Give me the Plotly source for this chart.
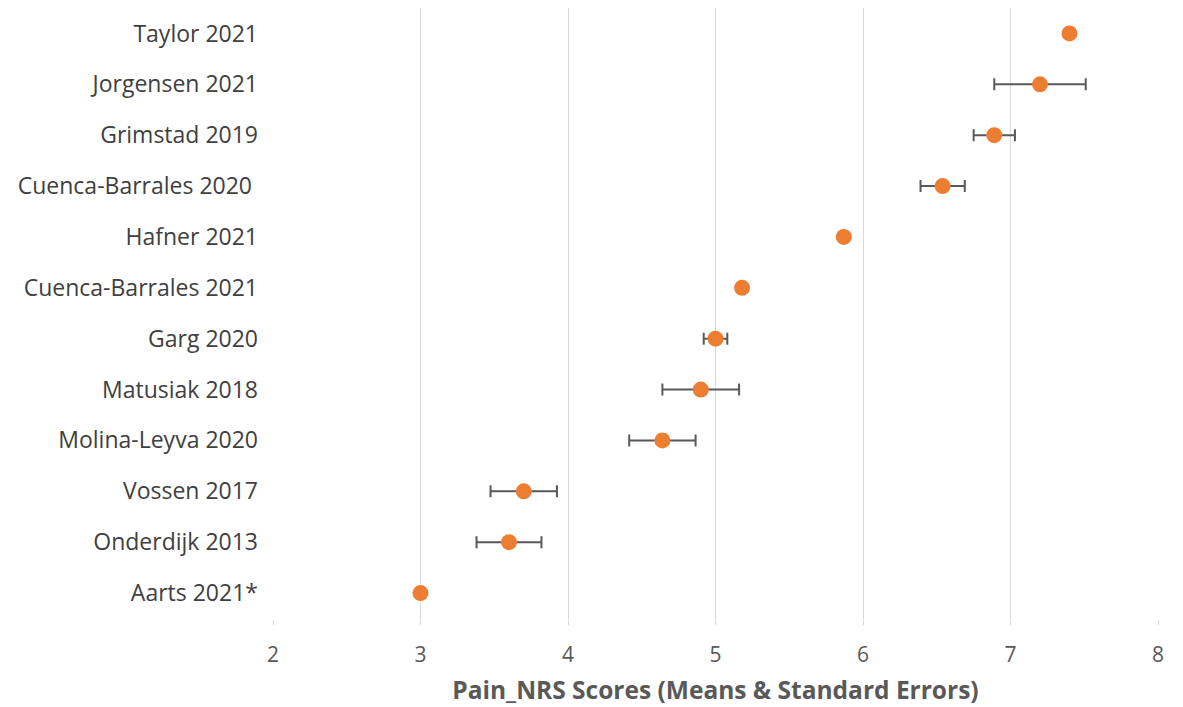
import plotly.graph_objects as go

studies = ["Taylor 2021", "Jorgensen 2021", "Grimstad 2019", "Cuenca-Barrales 2020 ",
           "Hafner 2021", "Cuenca-Barrales 2021", "Garg 2020", "Matusiak 2018",
           "Molina-Leyva 2020", "Vossen 2017", "Onderdijk 2013", "Aarts 2021*"]
means = [7.40, 7.20, 6.89, 6.54, 5.87, 5.18, 5.00, 4.90, 4.64, 3.70, 3.60, 3.00]
std_errors = [0, 0.31, 0.14, 0.15, 0, 0, 0.08, 0.26, 0.225, 0.225, 0.22, 0]
x_ticks = [2, 3, 4, 5, 6, 7, 8]

FONT = "Open Sans"

fig = go.Figure()
fig.add_trace(go.Scatter(
    x=means, y=studies, mode="markers",
    marker=dict(color="#ED7D31", size=16, line=dict(width=0)),
    error_x=dict(type="data", array=std_errors, visible=True,
                 color="#595959", thickness=2, width=6),
    showlegend=False,
))

fig.update_layout(
    width=1175, height=699,
    margin=dict(l=265, r=25, t=0, b=88),
    plot_bgcolor="white", paper_bgcolor="white",
    font=dict(family=FONT, color="#595959"),
    xaxis=dict(range=[2, 8], tickvals=x_ticks, showgrid=True, gridcolor="#d9d9d9",
               gridwidth=1, zeroline=False, showline=False,
               ticks="outside", ticklen=5, tickcolor="#d9d9d9",
               ticklabelstandoff=12,
               tickfont=dict(size=21, color="#595959", family=FONT),
               title=dict(text="<b>Pain_NRS Scores (Means & Standard Errors)</b>",
                          font=dict(size=24.5, color="#595959", family=FONT), standoff=14)),
    yaxis=dict(categoryorder="array", categoryarray=studies[::-1],
               range=[-0.51, 11.5], showgrid=False, zeroline=False, showline=False,
               ticks="", ticklabelstandoff=14,
               tickfont=dict(size=23, color="#404040", family=FONT)),
)

fig.write_html("out.html")
